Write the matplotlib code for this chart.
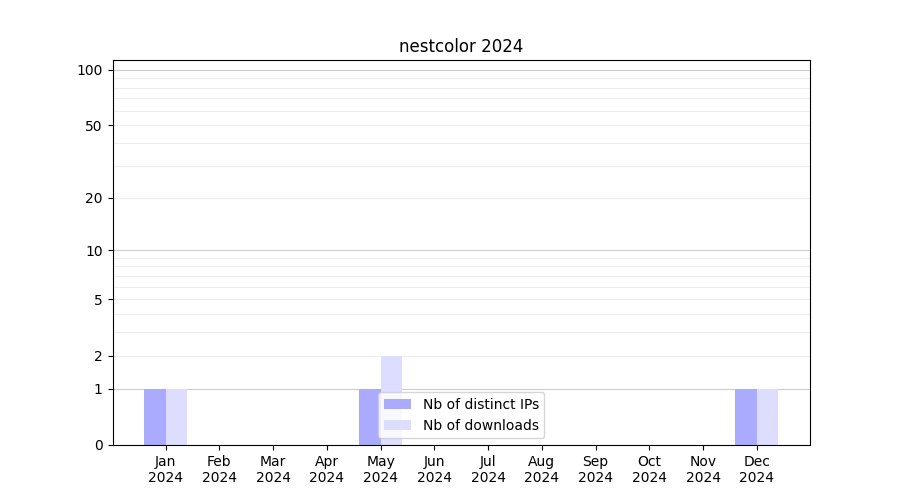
import numpy as np
import matplotlib
matplotlib.use("Agg")
import matplotlib.pyplot as plt

months = ["Jan", "Feb", "Mar", "Apr", "May", "Jun", "Jul", "Aug", "Sep", "Oct", "Nov", "Dec"]
year = "2024"
distinct_ips = [1, 0, 0, 0, 1, 0, 0, 0, 0, 0, 0, 1]
downloads = [1, 0, 0, 0, 2, 0, 0, 0, 0, 0, 0, 1]
ytick_values = [0, 1, 2, 5, 10, 20, 50, 100]
major_grid = [1, 10, 100]
minor_grid = [2, 3, 4, 5, 6, 7, 8, 9, 20, 30, 40, 50, 60, 70, 80, 90]

fig, ax = plt.subplots(figsize=(9, 5), dpi=100)
ax.set_yscale("function", functions=(lambda v: np.log10(1 + np.maximum(v, 0)),
                                     lambda v: 10 ** v - 1))

x = np.arange(len(months))
w = 0.4
ax.bar(x - w, distinct_ips, width=w, align="edge", color="#aaaaff", label="Nb of distinct IPs", zorder=2)
ax.bar(x, downloads, width=w, align="edge", color="#ddddff", label="Nb of downloads", zorder=2)

for g in minor_grid:
    ax.axhline(g, color="#eeeeee", lw=0.8, zorder=0)
for g in major_grid:
    ax.axhline(g, color="#cccccc", lw=0.8, zorder=1)

ax.set_ylim(0, 113)
ax.set_xlim(-0.99, len(months) - 0.01)
ax.set_yticks(ytick_values)
ax.set_yticklabels([str(v) for v in ytick_values])
ax.minorticks_off()
ax.set_xticks(x)
ax.set_xticklabels([f"{m}\n{year}" for m in months])
ax.set_title("nestcolor 2024")
ax.legend(loc="lower center")

fig.savefig("out.png")
